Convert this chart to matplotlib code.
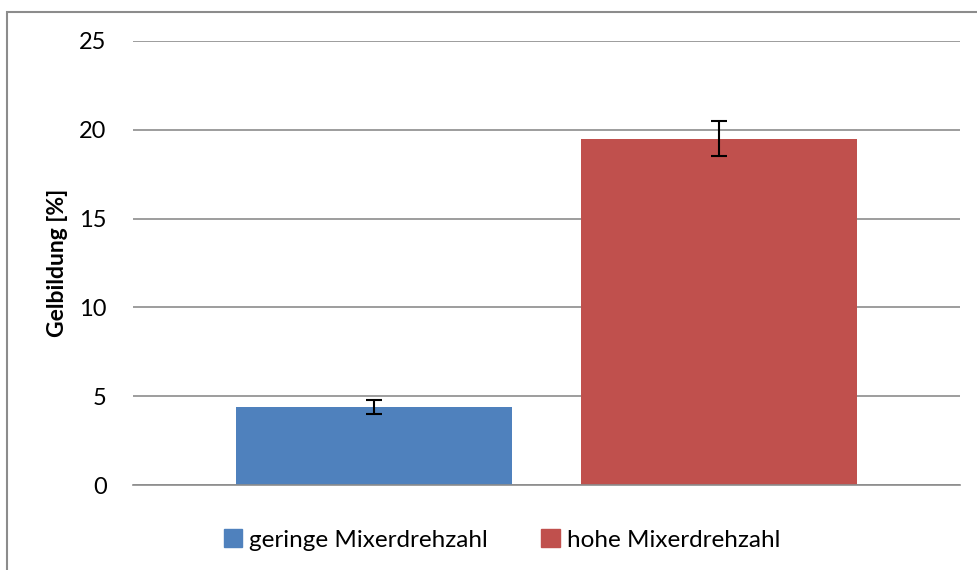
import matplotlib.pyplot as plt
from matplotlib.patches import Rectangle, Patch

series = ["geringe Mixerdrehzahl", "hohe Mixerdrehzahl"]
values = [4.4, 19.5]
errors = [0.4, 1.0]
colors = ["#4F81BD", "#C0504D"]
yticks = [0, 5, 10, 15, 20, 25]

plt.rcParams['font.family'] = ['Lato', 'DejaVu Sans']

W, H = 978, 570
fig = plt.figure(figsize=(W / 100, H / 100), dpi=100)
ax = fig.add_axes([133 / W, 1 - 485 / H, (960 - 133) / W, (485 - 41) / H])

# frame around the chart (cut off on the right and bottom like the screenshot)
fig.patches.append(Rectangle((7 / W, -0.1), 1.2, 1 - 12 / H + 0.1,
                             transform=fig.transFigure, fill=False,
                             edgecolor="#8c8c8c", linewidth=1.5))

offsets = [-0.625, 0.625]
for x, v, e, c, name in zip(offsets, values, errors, colors, series):
    ax.bar(x, v, width=1.0, color=c, zorder=2, label=name)
    ax.errorbar(x, v, yerr=e, color="black", capsize=6, elinewidth=1.5,
                capthick=1.5, zorder=3)

ax.set_xlim(-1.5, 1.5)
ax.set_ylim(0, 25)
ax.set_yticks(yticks)
ax.set_xticks([])
ax.yaxis.grid(True, color="#8c8c8c", linewidth=1.2, zorder=0)
for s in ["top", "right", "left"]:
    ax.spines[s].set_visible(False)
ax.spines["bottom"].set_color("#8c8c8c")
ax.spines["bottom"].set_linewidth(1.2)
ax.tick_params(axis="y", length=0, labelsize=17, pad=19)
ax.set_ylabel("Gelbildung [%]", fontsize=16.5, fontweight="bold")
ax.yaxis.set_label_coords((68 - 133) / (960 - 133), 0.5)

handles = [Patch(color=c) for c in colors]
fig.legend(handles, series, loc="center", bbox_to_anchor=(502 / W, 1 - 540 / H),
           ncol=2, frameon=False, fontsize=17.5, handlelength=0.75, handleheight=0.75,
           handletextpad=0.3, columnspacing=2.2)

fig.savefig("out.png", dpi=100)
